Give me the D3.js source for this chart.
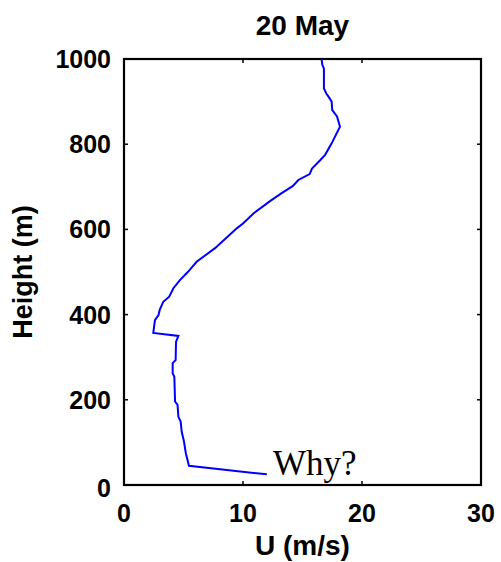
<!DOCTYPE html>
<html><head><meta charset="utf-8">
<script src="https://cdn.jsdelivr.net/npm/d3@7"></script>
<style>body{margin:0;background:#fff}</style>
</head><body>
<svg id="c" width="501" height="562"></svg>
<script>
const heights = [1000,986,978,931,919,911,900,880,865,841,802,775,763,743,730,716,702,685,667,638,614,603,556,524,501,481,462,442,430,411,399,387,357,350,336,293,286,262,254,196,188,160,149,125,102,74,45,25];
const speeds  = [16.6,16.67,16.8,16.8,17.0,17.2,17.45,17.5,17.9,18.15,17.45,16.9,16.5,15.8,15.6,14.65,14.2,13.25,12.3,10.9,10.0,9.5,7.65,6.1,5.4,4.7,4.15,3.8,3.3,3.0,2.9,2.6,2.46,4.57,4.37,4.34,4.09,4.09,4.23,4.29,4.5,4.57,4.76,4.85,5.04,5.2,5.46,12.0];
const xTicks = [0,10,20,30];
const yTicks = [0,200,400,600,800,1000];
const titleText = "20 May";
const xLabel = "U (m/s)";
const yLabel = "Height (m)";
const annotation = "Why?";

const svg = d3.select("#c");
const L=124, R=481, T=59, B=485;
const x = d3.scaleLinear().domain([0,30]).range([L,R]);
const y = d3.scaleLinear().domain([0,1000]).range([B,T]);
const font = "Arial, 'Liberation Sans', Helvetica, sans-serif";

// ticks inward on all sides
const tl = 4;
const g = svg.append("g").attr("stroke","#000").attr("stroke-width",1.5);
xTicks.forEach(v=>{
  g.append("line").attr("x1",x(v)).attr("x2",x(v)).attr("y1",B).attr("y2",B-tl);
  g.append("line").attr("x1",x(v)).attr("x2",x(v)).attr("y1",T).attr("y2",T+tl);
});
yTicks.forEach(v=>{
  g.append("line").attr("x1",L).attr("x2",L+tl).attr("y1",y(v)).attr("y2",y(v));
  g.append("line").attr("x1",R).attr("x2",R-tl).attr("y1",y(v)).attr("y2",y(v));
});
svg.append("rect").attr("x",L).attr("y",T).attr("width",R-L).attr("height",B-T)
  .attr("fill","none").attr("stroke","#000").attr("stroke-width",2.2);

// tick labels
svg.append("g").selectAll("text").data(xTicks).join("text")
  .attr("x",d=>x(d)).attr("y",522).attr("text-anchor","middle")
  .attr("font-family",font).attr("font-weight","bold").attr("font-size",25)
  .text(d=>d);
svg.append("g").selectAll("text").data(yTicks).join("text")
  .attr("x",L-13).attr("y",d=>y(d)+ (d===0?12:9)).attr("text-anchor","end")
  .attr("font-family",font).attr("font-weight","bold").attr("font-size",25)
  .text(d=>d);

// line
const line = d3.line().x((d,i)=>x(speeds[i])).y(d=>y(d));
svg.append("path").datum(heights).attr("d",line)
  .attr("fill","none").attr("stroke","#0000ff").attr("stroke-width",2);

// texts
svg.append("text").attr("x",(L+R)/2).attr("y",35).attr("text-anchor","middle")
  .attr("font-family",font).attr("font-weight","bold").attr("font-size",28).text(titleText);
svg.append("text").attr("x",(L+R)/2).attr("y",555).attr("text-anchor","middle")
  .attr("font-family",font).attr("font-weight","bold").attr("font-size",28).text(xLabel);
svg.append("text").attr("transform",`translate(32,${(T+B)/2}) rotate(-90)`).attr("text-anchor","middle")
  .attr("font-family",font).attr("font-weight","bold").attr("font-size",27).text(yLabel);
svg.append("text").attr("x",273).attr("y",475)
  .attr("font-family","'Liberation Serif','Times New Roman',serif").attr("font-size",35).text(annotation);
</script>
</body></html>
